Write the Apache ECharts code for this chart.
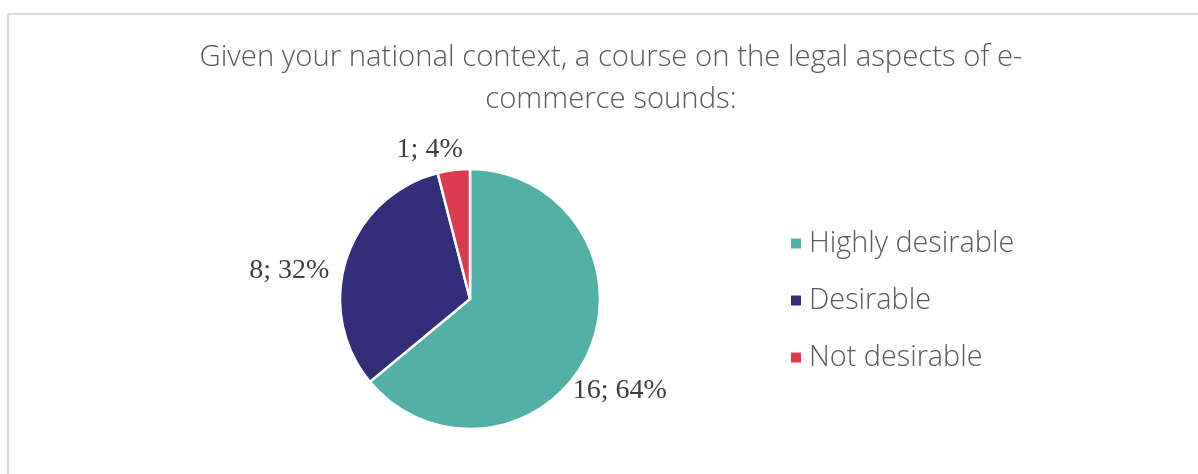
<!DOCTYPE html>
<html>
<head>
<meta charset="utf-8">
<script src="https://cdn.jsdelivr.net/npm/echarts@6/dist/echarts.min.js"></script>
<style>
  html, body { margin: 0; padding: 0; background: #ffffff; }
  #frame { position: absolute; left: 7px; top: 13px; right: 0; bottom: -10px;
           border-top: 2px solid #d9d9d9; border-left: 2px solid #d9d9d9; }
  #chart { position: absolute; left: 0; top: 0; width: 1198px; height: 474px; }
</style>
</head>
<body>
<div id="frame"></div>
<div id="chart"></div>
<script>
// Survey answers: count of respondents per option
const categories = ['Highly desirable', 'Desirable', 'Not desirable'];
const counts = [16, 8, 1];
const percents = [64, 32, 4];
const sliceColors = ['#54b0a5', '#342d78', '#db3b51'];

const titleText = 'Given your national context, a course on the legal aspects of e-\ncommerce sounds:';

// Nudges that place each label beside its slice, like a "best fit" layout
const labelNudges = [[-15, 36], [-17, 12], [9, -20]];

const chart = echarts.init(document.getElementById('chart'), null, { renderer: 'canvas' });

chart.setOption({
  animation: false,
  color: sliceColors,
  title: {
    text: titleText,
    left: 606,
    textAlign: 'center',
    top: 32,
    textStyle: {
      fontFamily: 'Open Sans',
      fontWeight: 300,
      fontSize: 29.3,
      lineHeight: 42,
      color: '#595959'
    }
  },
  legend: {
    orient: 'vertical',
    left: 784,
    top: 224,
    itemWidth: 12,
    itemHeight: 12,
    itemGap: 28,
    icon: 'rect',
    data: categories,
    textStyle: {
      fontFamily: 'Open Sans',
      fontWeight: 300,
      fontSize: 28.8,
      lineHeight: 24,
      color: '#595959',
      padding: [0, 0, 0, 2]
    }
  },
  series: [{
    type: 'pie',
    center: [470, 299],
    radius: 130,
    startAngle: 90,
    clockwise: true,
    avoidLabelOverlap: false,
    itemStyle: { borderColor: '#ffffff', borderWidth: 2.5 },
    label: {
      show: true,
      position: 'outside',
      distanceToLabelLine: 0,
      fontFamily: 'Liberation Serif',
      fontSize: 28,
      color: '#404040',
      formatter: p => counts[p.dataIndex] + '; ' + percents[p.dataIndex] + '%'
    },
    labelLine: { show: false, length: 0, length2: 0 },
    labelLayout: p => ({ dx: labelNudges[p.dataIndex][0], dy: labelNudges[p.dataIndex][1] }),
    data: categories.map((name, i) => ({ name: name, value: counts[i] }))
  }]
});
</script>
</body>
</html>
